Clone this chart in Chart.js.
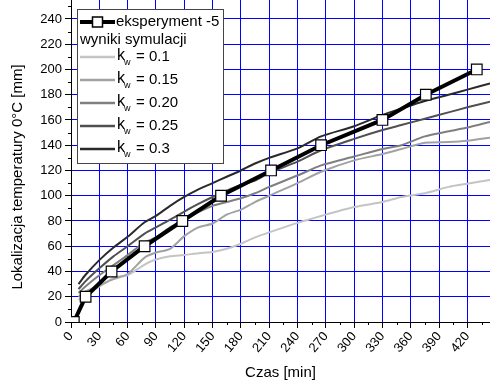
<!DOCTYPE html>
<html>
<head>
<meta charset="utf-8">
<script src="https://cdn.jsdelivr.net/npm/chart.js@4/dist/chart.umd.min.js"></script>
<style>
  html, body { margin: 0; padding: 0; background: #fff; }
</style>
</head>
<body>
<canvas id="chart" width="490" height="383"></canvas>
<script>
// experiment points (time in min, depth in mm)
const expTime = [3, 15.5, 43, 78, 118, 159, 212, 265, 330, 376, 430];
const expDepth = [0, 20, 40, 60, 80, 100, 120, 140, 160, 180, 200];

// simulation curves, all sampled at the same times
const simTime = [8, 15, 30, 45, 60, 78, 90, 105, 120, 135, 150, 165, 180, 195, 210, 240, 265, 300, 330, 350, 375, 400, 420, 444];
const kw01 = [17.5, 22, 28, 35, 37, 45.5, 49.5, 52, 53, 54.5, 55.5, 58, 62, 67, 71, 78.5, 84, 91, 95, 99, 102, 107, 109.5, 112.5];
const kw015 = [20, 24, 29, 34, 38, 51, 55, 58, 68, 75, 78, 85, 89, 95, 100, 110, 119, 128, 133, 137, 142, 142.5, 143.5, 146];
const kw020 = [23, 28, 37, 45, 53, 63, 67, 75, 81, 87, 92, 95, 98, 102, 107, 116, 124, 131, 137, 140, 147, 151, 154, 158.5];
const kw025 = [26, 32, 42.5, 52, 60, 70, 75, 81, 87.5, 93.5, 99, 104, 108.5, 112, 118, 127, 136, 145, 152, 156, 161, 166, 170, 174.5];
const kw03 = [30, 37, 49, 59, 67.5, 79, 84, 92, 99, 105, 110, 115, 120, 125.5, 130, 137.5, 147, 155, 164, 169, 175, 180, 184, 189];

const simLabels = ['0.1', '0.15', '0.20', '0.25', '0.3'];
const simColors = ['#c4c4c4', '#a2a2a2', '#7f7f7f', '#505050', '#2a2a2a'];

const FONT = "'Liberation Sans', Arial, sans-serif";

function toPoints(xs, ys) {
  return xs.map((x, i) => ({ x: x, y: ys[i] }));
}

const simSets = [kw01, kw015, kw020, kw025, kw03].map((ys, i) => ({
  label: 'kw = ' + simLabels[i],
  data: toPoints(simTime, ys),
  borderColor: simColors[i],
  borderWidth: 2,
  pointRadius: 0,
  tension: 0.25,
  order: 5 - i
}));

// minor tick marks + y title + legend box
const extras = {
  id: 'extras',
  afterDraw(chart) {
    const ctx = chart.ctx;
    const xs = chart.scales.x, ys = chart.scales.y;
    const area = chart.chartArea;
    ctx.save();
    ctx.strokeStyle = '#000';
    ctx.lineWidth = 1;
    ctx.beginPath();
    for (let v = 15; v < 444; v += 30) {
      const px = Math.round(xs.getPixelForValue(v)) + 0.5;
      ctx.moveTo(px, area.bottom);
      ctx.lineTo(px, area.bottom + 3);
    }
    for (let v = 10; v < 255; v += 20) {
      const py = Math.round(ys.getPixelForValue(v)) + 0.5;
      ctx.moveTo(area.left - 3, py);
      ctx.lineTo(area.left, py);
    }
    ctx.stroke();

    // y axis title
    ctx.fillStyle = '#000';
    ctx.font = '15px ' + FONT;
    ctx.textAlign = 'center';
    ctx.textBaseline = 'middle';
    ctx.translate(18, 177);
    ctx.rotate(-Math.PI / 2);
    ctx.fillText('Lokalizacja temperatury 0\u00B0C [mm]', 0, 0);
    ctx.restore();

    // legend
    ctx.save();
    ctx.fillStyle = '#fff';
    ctx.fillRect(77, 9, 146, 154);
    ctx.strokeStyle = '#444';
    ctx.lineWidth = 1;
    ctx.strokeRect(77.5, 9.5, 146, 154);

    ctx.strokeStyle = '#000';
    ctx.lineWidth = 4;
    ctx.beginPath();
    ctx.moveTo(80, 22);
    ctx.lineTo(115, 22);
    ctx.stroke();
    ctx.fillStyle = '#fff';
    ctx.lineWidth = 1.5;
    ctx.fillRect(92.5, 17, 10, 10);
    ctx.strokeRect(92.5, 17, 10, 10);

    ctx.fillStyle = '#000';
    ctx.font = '15px ' + FONT;
    ctx.textAlign = 'left';
    ctx.textBaseline = 'middle';
    ctx.fillText('eksperyment -5', 116, 22);
    ctx.fillText('wyniki symulacji', 80, 40);

    const rows = [57, 80, 103, 126, 149];
    rows.forEach((ry, i) => {
      ctx.strokeStyle = simColors[i];
      ctx.lineWidth = 2.5;
      ctx.beginPath();
      ctx.moveTo(80, ry);
      ctx.lineTo(115, ry);
      ctx.stroke();
      ctx.fillStyle = '#000';
      ctx.font = '16px ' + FONT;
      ctx.fillText('k', 117, ry - 1);
      ctx.font = '9px ' + FONT;
      ctx.fillText('w', 124, ry + 6);
      ctx.font = '15px ' + FONT;
      ctx.fillText('= ' + simLabels[i], 136, ry);
    });
    ctx.restore();
  }
};

new Chart(document.getElementById('chart').getContext('2d'), {
  type: 'line',
  data: {
    datasets: [{
      label: 'eksperyment -5',
      data: toPoints(expTime, expDepth),
      borderColor: '#000',
      borderWidth: 4,
      pointStyle: 'rect',
      pointRadius: 7.5,
      pointBackgroundColor: '#fff',
      pointBorderColor: '#000',
      pointBorderWidth: 1.2,
      tension: 0,
      order: 0
    }].concat(simSets)
  },
  options: {
    responsive: false,
    animation: false,
    layout: { padding: 0, autoPadding: false },
    plugins: { legend: { display: false }, tooltip: { enabled: false } },
    scales: {
      x: {
        type: 'linear',
        min: 0,
        max: 444,
        afterBuildTicks: s => { s.ticks = s.ticks.filter(t => t.value % 30 === 0); },
        afterFit: s => { s.height = 61; s.paddingLeft = 0; s.paddingRight = 0; },
        ticks: {
          stepSize: 30,
          minRotation: 50,
          maxRotation: 50,
          padding: 1,
          color: '#000',
          font: { family: FONT, size: 13 }
        },
        grid: { color: '#0000ff', lineWidth: 1, tickColor: '#000', tickLength: 6 },
        border: { color: '#000', width: 1 },
        title: {
          display: true,
          text: 'Czas [min]',
          color: '#000',
          font: { family: FONT, size: 15 },
          padding: { top: 0, bottom: 1 }
        }
      },
      y: {
        min: 0,
        max: 255,
        afterBuildTicks: s => { s.ticks = s.ticks.filter(t => t.value % 20 === 0); },
        afterFit: s => { s.width = 71; s.paddingTop = 0; s.paddingBottom = 0; },
        ticks: {
          stepSize: 20,
          padding: 3,
          color: '#000',
          font: { family: FONT, size: 13 }
        },
        grid: { color: '#0000ff', lineWidth: 1, tickColor: '#000', tickLength: 6 },
        border: { color: '#000', width: 1 }
      }
    }
  },
  plugins: [extras]
});
</script>
</body>
</html>
